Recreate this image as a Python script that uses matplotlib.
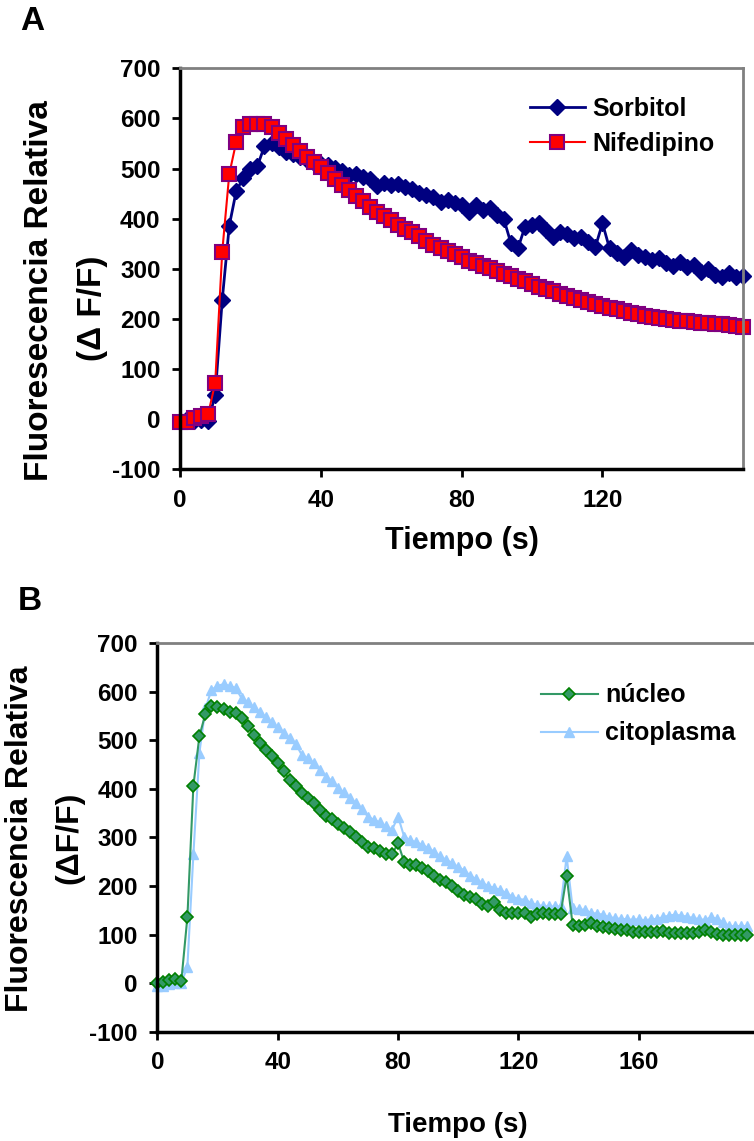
import numpy as np
import matplotlib
matplotlib.use("Agg")
import matplotlib.pyplot as plt

plt.rcParams['font.family'] = ['Liberation Sans', 'DejaVu Sans']
plt.rcParams['font.weight'] = 'bold'
plt.rcParams['axes.unicode_minus'] = False

# panel A (2 s sampling)
sorbitol = [-3, 0, -3, -2, -4,
            48, 238, 386, 456, 481, 499, 505,
            545, 551, 544, 534, 529, 524, 517, 512,
            509, 507, 501, 496, 488, 490, 483, 479, 466, 471,
            468, 470, 464, 459, 451, 448, 444, 434, 438, 431,
            427, 414, 427, 418, 421, 408, 399, 351, 341, 384,
            388, 391, 378, 364, 374, 370, 361, 364, 354, 344, 391,
            341, 332, 324, 338, 328, 323, 318, 321, 312, 306,
            314, 303, 308, 294, 299, 288, 283, 291, 284, 286]
nifedipino = [-5, -5, 2, 6, 10,
              72, 334, 489, 554, 583, 589, 589, 589,
              582, 571, 559, 547, 535, 524, 513,
              503, 492, 480, 468, 457, 446, 435, 424,
              414, 405, 397, 388, 380, 374, 366, 356, 348, 342, 336, 330,
              324, 316, 312, 306, 301, 295, 290, 286, 280, 275,
              270, 264, 260, 255, 250, 246, 242, 238, 234, 230,
              225, 222, 219, 215, 212, 209, 206, 203, 201, 200,
              198, 196, 195, 194, 192, 191, 190, 189, 188, 186, 184]

# panel B (2 s sampling)
nucleo = [0, 3, 7, 8, 5, 136, 407, 509, 555, 571,
          568, 564, 559, 556, 546, 530, 511, 494, 480, 467,
          453, 436, 419, 406, 391, 382, 371, 357, 345, 338,
          328, 319, 312, 301, 290, 281, 278, 272, 266, 266,
          288, 250, 244, 244, 237, 230, 221, 213, 209, 200,
          189, 182, 178, 173, 163, 158, 168, 151, 145, 145,
          144, 144, 137, 143, 144, 143, 143, 143, 221, 120,
          118, 120, 124, 117, 115, 113, 111, 110, 110, 106,
          106, 106, 106, 106, 108, 103, 103, 103, 103, 103,
          106, 110, 106, 102, 100, 100, 100, 100, 100]
citoplasma = [-5, -6, -1, 0, 1, 34, 266, 475, 566, 604,
              612, 616, 612, 608, 587, 580, 568, 559, 548, 537,
              527, 516, 505, 493, 470, 463, 453, 439, 425, 417,
              402, 393, 381, 371, 358, 343, 336, 331, 323, 316,
              343, 302, 294, 290, 285, 278, 271, 261, 254, 247,
              239, 232, 221, 214, 206, 200, 196, 192, 185, 178,
              173, 172, 166, 161, 159, 158, 158, 158, 261, 154,
              152, 151, 145, 143, 141, 136, 134, 132, 132, 130,
              132, 129, 132, 132, 136, 139, 141, 139, 137, 134,
              132, 130, 136, 132, 125, 118, 117, 118, 117]

t_a = np.arange(len(sorbitol)) * 2
t_b = np.arange(len(nucleo)) * 2

yticks = [-100, 0, 100, 200, 300, 400, 500, 600, 700]


def style(ax):
    for s in ['left', 'bottom']:
        ax.spines[s].set_linewidth(2.5)
        ax.spines[s].set_color('black')
    for s in ['top', 'right']:
        ax.spines[s].set_linewidth(2)
        ax.spines[s].set_color('#808080')
    ax.tick_params(direction='out', length=6, width=2, labelsize=17.5, pad=8)
    ax.set_yticks(yticks)
    ax.set_ylim(-100, 700)
    for lab in ax.get_xticklabels() + ax.get_yticklabels():
        lab.set_fontweight('bold')


fig = plt.figure(figsize=(7.54, 11.41), dpi=100)

# ---- A
ax1 = fig.add_axes([0.2387, 0.5887, 0.7471, 0.3514])
ax1.plot(t_a, sorbitol, color='#000080', lw=2, marker='D', ms=8,
         mfc='#000080', mec='#000080', label='Sorbitol', clip_on=False)
ax1.plot(t_a, nifedipino, color='#FF0000', lw=1.5, marker='s', ms=9.5,
         mfc='#FF0000', mec='#800080', mew=1.5, label='Nifedipino', clip_on=False)
ax1.set_xlim(0, 160)
ax1.set_xticks([0, 40, 80, 120])
style(ax1)
ax1.set_xlabel('Tiempo (s)', fontsize=22, fontweight='bold', labelpad=10)
ax1.legend(loc='upper left', bbox_to_anchor=(517 / 754, 1 - 84 / 1141),
           bbox_transform=fig.transFigure, frameon=False, fontsize=18,
           borderpad=0, handlelength=2.2, handletextpad=0.3, labelspacing=0.45)

fig.text(40 / 754, 1 - 291 / 1141, 'Fluoresecencia Relativa', rotation=90,
         ha='center', va='center', fontsize=24, fontweight='bold')
fig.text(92 / 754, 1 - 308 / 1141, '(\u0394 F/F)', rotation=90,
         ha='center', va='center', fontsize=24, fontweight='bold')
fig.text(32 / 754, 1 - 22 / 1141, 'A', ha='center', va='center',
         fontsize=24, fontweight='bold')

# ---- B
ax2 = fig.add_axes([0.2086, 0.0958, 0.7984, 0.3404])
ax2.plot(t_b, citoplasma, color='#99CCFF', lw=1.5, marker='^', ms=7,
         mfc='#99CCFF', mec='#99CCFF', label='citoplasma', clip_on=False)
ax2.plot(t_b, nucleo, color='#339966', lw=1.5, marker='D', ms=6.5,
         mfc='#339966', mec='#008000', mew=1.2, label='n\u00facleo', clip_on=False)
ax2.set_xlim(0, 200)
ax2.set_xticks([0, 40, 80, 120, 160])
style(ax2)
ax2.set_xlabel('Tiempo (s)', fontsize=20, fontweight='bold', labelpad=27)
h, l = ax2.get_legend_handles_labels()
ax2.legend(h[::-1], l[::-1], loc='upper left',
           bbox_to_anchor=(528 / 754, 1 - 671 / 1141),
           bbox_transform=fig.transFigure, frameon=False, fontsize=18,
           borderpad=0, handlelength=2.3, handletextpad=0.3, labelspacing=0.55)

fig.text(20 / 754, 1 - 839 / 1141, 'Fluorescencia Relativa', rotation=90,
         ha='center', va='center', fontsize=23, fontweight='bold')
fig.text(69 / 754, 1 - 838 / 1141, '(\u0394F/F)', rotation=90,
         ha='center', va='center', fontsize=23, fontweight='bold')
fig.text(30 / 754, 1 - 602 / 1141, 'B', ha='center', va='center',
         fontsize=24, fontweight='bold')

fig.savefig('out.png', dpi=100)
